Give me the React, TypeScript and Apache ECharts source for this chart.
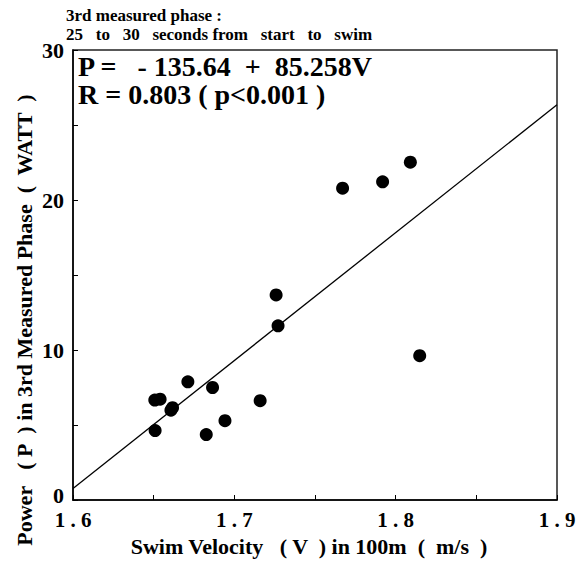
import React, { useEffect, useRef } from "react";
import * as echarts from "echarts";

const velocity = [1.7671, 1.7919, 1.8091, 1.8149, 1.7259, 1.7271, 1.6712, 1.6865, 1.654, 1.6507, 1.6617, 1.6607, 1.6509, 1.6826, 1.6942, 1.716];
const power = [20.79, 21.21, 22.52, 9.62, 13.67, 11.61, 7.88, 7.5, 6.72, 6.66, 6.15, 5.99, 4.63, 4.36, 5.29, 6.62];
const intercept = -135.64;
const slope = 85.258;
const xRange = [1.6, 1.9];
const yTickLabels = ["0", "10", "20", "30"];
const titleLines = ["3rd measured phase :", "25   to   30   seconds from   start   to   swim"];
const equationLines = ["P =   - 135.64  +  85.258V", "R = 0.803 ( p<0.001 )"];

const FONT = "Liberation Serif";

export default function App() {
  const ref = useRef<HTMLDivElement>(null);
  useEffect(() => {
    if (!ref.current) return;
    const chart = echarts.init(ref.current, null, { renderer: "svg" });
    const points = velocity.map((v, i) => [v, power[i]]);
    const lineData = xRange.map((x) => [x, intercept + slope * x]);
    const yLabelStyle = { fontFamily: FONT, fontWeight: "bold", fontSize: 22, lineHeight: 16, color: "#000" };
    chart.setOption({
      animation: false,
      backgroundColor: "#fff",
      textStyle: { fontFamily: FONT },
      grid: { left: 73, right: 29, top: 50, bottom: 60, show: true, borderColor: "#222", borderWidth: 1.5, backgroundColor: "transparent" },
      xAxis: {
        type: "value",
        min: 1.6,
        max: 1.9,
        interval: 0.05,
        splitLine: { show: false },
        axisLine: { lineStyle: { color: "#000", width: 1.5 } },
        axisTick: { inside: true, length: 5, lineStyle: { color: "#000" } },
        axisLabel: {
          color: "#000",
          margin: 11,
          formatter: (v: number) => {
            const r = Math.round(v * 100);
            return r % 10 === 0 ? `{t|${(r / 100).toFixed(1).split("").join(" ")}}` : "";
          },
          rich: { t: { fontFamily: FONT, fontWeight: "bold", fontSize: 21, lineHeight: 17, color: "#000" } },
        },
        name: "Swim Velocity   ( V  ) in 100m  (  m/s  )",
        nameLocation: "middle",
        nameGap: 46,
        nameTextStyle: { color: "#000", fontFamily: FONT, fontWeight: "bold", fontSize: 22, verticalAlign: "middle", padding: [0, 12, 0, 0] },
      },
      yAxis: {
        type: "value",
        min: 0,
        max: 30,
        interval: 5,
        splitLine: { show: false },
        axisLine: { lineStyle: { color: "#000", width: 1.5 } },
        axisTick: { inside: true, length: 5, lineStyle: { color: "#000" } },
        axisLabel: {
          color: "#000",
          margin: 9,
          formatter: (v: number) => {
            const s = String(v);
            if (!yTickLabels.includes(s)) return "";
            return v === 0 ? `{z|${s}}` : `{t|${s}}`;
          },
          rich: { t: yLabelStyle, z: { ...yLabelStyle, padding: [0, 0, 9, 0] } },
        },
      },
      graphic: [
        {
          type: "text",
          left: 66,
          top: 6,
          style: { text: titleLines.join("\n"), fontFamily: FONT, fontWeight: "bold", fontSize: 17, fill: "#000", lineHeight: 19 },
        },
        {
          type: "text",
          left: 78,
          top: 52,
          style: { text: equationLines.join("\n"), fontFamily: FONT, fontWeight: "bold", fontSize: 28, fill: "#000", lineHeight: 28 },
        },
        {
          type: "text",
          x: 24,
          y: 320,
          rotation: Math.PI / 2,
          style: {
            text: "Power   ( P  ) in 3rd Measured Phase  (  WATT  )",
            fontFamily: FONT,
            fontWeight: "bold",
            fontSize: 22,
            fill: "#000",
            textAlign: "center",
            textVerticalAlign: "middle",
          },
        },
      ],
      series: [
        {
          type: "line",
          data: lineData,
          symbol: "none",
          lineStyle: { color: "#000", width: 1.3 },
          z: 2,
        },
        {
          type: "scatter",
          data: points,
          symbol: "circle",
          symbolSize: 13,
          itemStyle: { color: "#000", opacity: 1 },
          z: 3,
        },
      ],
    });
    return () => chart.dispose();
  }, []);
  return <div ref={ref} style={{ position: "absolute", left: 0, top: 0, width: 586, height: 562 }} />;
}
